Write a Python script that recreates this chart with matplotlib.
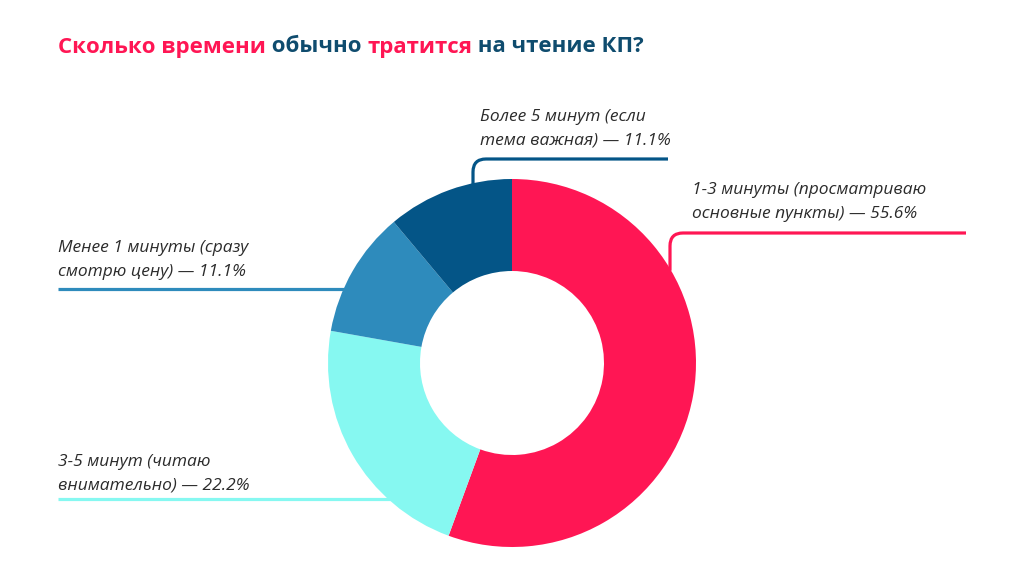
import numpy as np
import matplotlib.pyplot as plt
from matplotlib.path import Path
from matplotlib.patches import PathPatch

# data
labels = ['1-3 минуты (просматриваю\nосновные пункты) — 55.6%',
          '3-5 минут (читаю\nвнимательно) — 22.2%',
          'Менее 1 минуты (сразу\nсмотрю цену) — 11.1%',
          'Более 5 минут (если\nтема важная) — 11.1%']
shares = [55.6, 22.2, 11.1, 11.1]
colors = ['#FF1654', '#86F8F1', '#2E8BBC', '#045587']

title_parts = ['Сколько времени', ' обычно ', 'тратится', ' на чтение КП?']
title_colors = ['#FF1654', '#0F4C6E', '#FF1654', '#0F4C6E']

W, H = 1024, 577
CX, CY, R, HOLE = 512, 363, 184, 92


def Y(y):
    return H - y


fig = plt.figure(figsize=(W / 100, H / 100), dpi=100)
ax = fig.add_axes([0, 0, 1, 1])

wedges, _ = ax.pie(shares, colors=colors, startangle=90, counterclock=False,
                   radius=R, center=(CX, Y(CY)),
                   wedgeprops=dict(width=R - HOLE, linewidth=0))
ax.set_xlim(0, W)
ax.set_ylim(0, H)
ax.set_aspect('equal')
ax.axis('off')

font_txt = dict(family=['Open Sans', 'DejaVu Sans'], style='italic', fontsize=12.5, color='#2b2b2b',
                linespacing=1.6)


def edge_x_at(y_img, side):
    dy = CY - y_img
    dx = np.sqrt(R ** 2 - dy ** 2)
    return CX + side * dx


def edge_y_at(x_img):
    dx = x_img - CX
    return CY - np.sqrt(R ** 2 - dx ** 2)


def elbow(x, y0, y1, x_end, col, r=13):
    verts = [(x, Y(y0)), (x, Y(y1 + r)), (x, Y(y1)), (x + r, Y(y1)), (x_end, Y(y1))]
    codes = [Path.MOVETO, Path.LINETO, Path.CURVE3, Path.CURVE3, Path.LINETO]
    ax.add_patch(PathPatch(Path(verts, codes), fill=False, edgecolor=col, lw=2.3, capstyle='butt'))


# 1-3 minutes (right)
elbow(670, edge_y_at(670) + 2, 233, 966, colors[0])
ax.text(692, Y(202), labels[0], va='center', ha='left', **font_txt)

# more than 5 minutes (top)
elbow(473, edge_y_at(473) + 2, 159, 668, colors[3])
ax.text(480, Y(129), labels[3], va='center', ha='left', **font_txt)

# less than 1 minute (left)
ax.plot([58, edge_x_at(289, -1) + 2], [Y(289), Y(289)], color=colors[2], lw=2.3, solid_capstyle='butt')
ax.text(58, Y(260), labels[2], va='center', ha='left', **font_txt)

# 3-5 minutes (bottom left)
ax.plot([58, edge_x_at(499, -1) + 2], [Y(499), Y(499)], color=colors[1], lw=2.3, solid_capstyle='butt')
ax.text(58, Y(474), labels[1], va='center', ha='left', **font_txt)

# title in mixed colors
fig.canvas.draw()
renderer = fig.canvas.get_renderer()
x = 58
for part, col in zip(title_parts, title_colors):
    t = ax.text(x, Y(47), part, color=col, fontsize=16, fontweight='bold',
                family=['Open Sans', 'DejaVu Sans'], va='center', ha='left')
    bb = t.get_window_extent(renderer)
    x += bb.width

fig.savefig('out.png', dpi=100)
